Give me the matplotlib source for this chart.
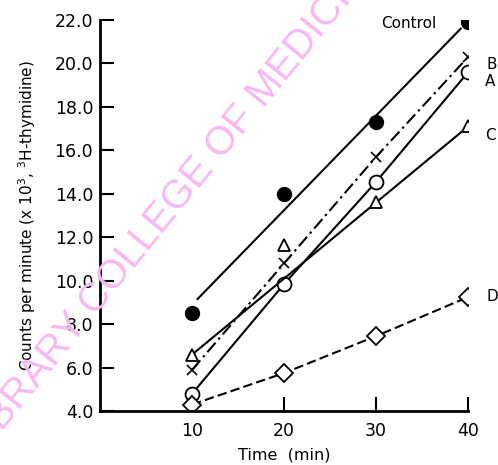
import matplotlib
matplotlib.use("Agg")
import matplotlib.pyplot as plt
import numpy as np

# data
time_min = [10, 20, 30, 40]
control = [8.5, 14.0, 17.3, 21.9]
series_b = [5.9, 10.8, 15.7, 20.3]
series_a = [4.8, 9.85, 14.55, 19.6]
series_c = [6.6, 11.65, 13.6, 17.1]
series_d = [4.3, 5.75, 7.45, 9.25]
c_line_idx = [0, 2, 3]  # the C line skips the 20 min point
y_ticks = [4.0, 6.0, 8.0, 10.0, 12.0, 14.0, 16.0, 18.0, 20.0, 22.0]

plt.rcParams['font.family'] = ['DejaVu Sans']

fig = plt.figure(figsize=(4.98, 4.65), dpi=100)
ax = fig.add_axes([0.201, 0.116, 0.739, 0.841])

lw = 1.5
t = np.array(time_min)

# control: straight fitted line, drawn a bit short of the end points
k, b0 = np.polyfit(t, control, 1)
tl = np.array([10.6, 39.2])
ax.plot(tl, k * tl + b0, color='black', lw=lw)
ax.plot(t, control, 'o', color='black', ms=10)

# B: dash-dot through crosses
ax.plot(t, series_b, color='black', lw=lw, dashes=(6, 2, 1.2, 2))
ax.plot(t, series_b, 'x', color='black', ms=7, mew=1.2)

# A: solid through open circles
ax.plot(t, series_a, '-o', color='black', lw=lw, ms=10,
        mfc='white', mec='black', mew=1.3)

# C: solid line, open triangles
ax.plot(t[c_line_idx], np.array(series_c)[c_line_idx], color='black', lw=lw)
ax.plot(t, series_c, '^', ms=9, mfc='white', mec='black', mew=1.3)

# D: dashed through open diamonds
ax.plot(t, series_d, color='black', lw=lw, dashes=(4.5, 2))
ax.plot(t, series_d, 'D', ms=9, mfc='white', mec='black', mew=1.3)

# curve labels
ax.annotate('Control', xy=(t[-1], control[-1]), xytext=(-32, -1),
            textcoords='offset pixels', ha='right', va='center', fontsize=11)
for lab, ser, dx, dy in [('B', series_b, 18, -8), ('A', series_a, 17, -9),
                         ('C', series_c, 17, -9), ('D', series_d, 18, 0)]:
    ax.annotate(lab, xy=(t[-1], ser[-1]), xytext=(dx, dy),
                textcoords='offset pixels', ha='left', va='center',
                fontsize=11, annotation_clip=False)

ax.set_xlim(0, 40)
ax.set_ylim(4, 22)
ax.set_xticks(time_min)
ax.set_yticks(y_ticks)
ax.set_yticklabels([f'{v:.1f}' for v in y_ticks])
ax.tick_params(direction='in', length=10, width=1.5, labelsize=12.5, pad=5)
ax.tick_params(axis='x', pad=8)
for s in ['top', 'right']:
    ax.spines[s].set_visible(False)
for s in ['left', 'bottom']:
    ax.spines[s].set_linewidth(2)

ax.set_xlabel('Time  (min)', fontsize=11.5, labelpad=5)
ax.set_ylabel('Counts per minute (x $\\mathregular{10^3}$, '
              '$\\mathregular{^3}$H-thymidine)', fontsize=11, labelpad=12)

# library stamp across the page
fig.text(0.352, 0.57, 'LIBRARY COLLEGE OF MEDICINE', color='#f8b8f3',
         fontsize=29, rotation=51, ha='center', va='center',
         rotation_mode='anchor', family='Liberation Sans')

fig.savefig('out.png', dpi=100)
